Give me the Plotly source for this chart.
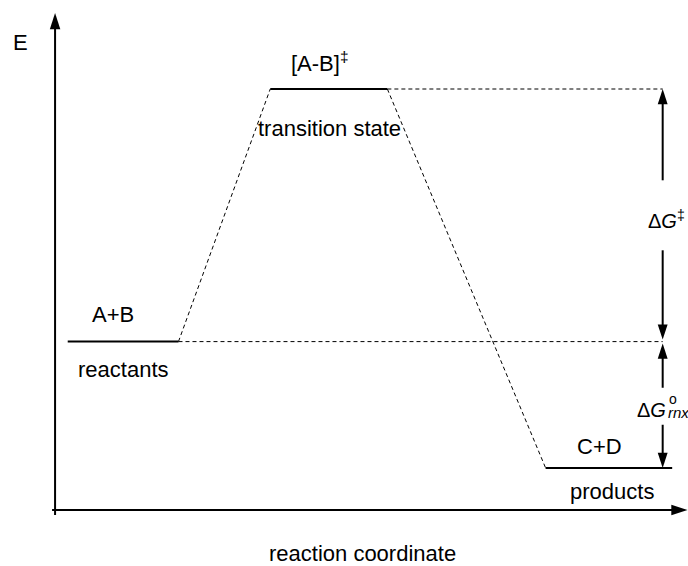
import plotly.graph_objects as go

# ---- data ----
states = ["reactants", "transition state", "products"]
species = ["A+B", "[A-B]‡", "C+D"]
energy = [40, 100, 10]
x_start = [2.0, 34.0, 77.5]
x_end = [19.5, 52.5, 97.5]
arrow_x = 96.0
x_title = "reaction coordinate"
y_title = "E"

# ---- geometry helpers ----
W, H = 688, 566
XR = [-8.7, 100.0]
YR = [-13.3, 121.14]
px_x = W / (XR[1] - XR[0])
px_y = H / (YR[1] - YR[0])


def dx(p):
    return p / px_x


def dy(p):
    return p / px_y


FONT = "Liberation Sans, Arial, sans-serif"
BLACK = "#000000"
fig = go.Figure()


def seg(x0, y0, x1, y1, width=2, dash=None):
    fig.add_trace(go.Scatter(x=[x0, x1], y=[y0, y1], mode="lines",
                             line=dict(color=BLACK, width=width, dash=dash),
                             hoverinfo="skip", showlegend=False))


def head(x, y, angle, size=16):
    fig.add_trace(go.Scatter(x=[x], y=[y], mode="markers",
                             marker=dict(symbol="arrow", angle=angle, size=size,
                                         color=BLACK, line=dict(width=0)),
                             hoverinfo="skip", showlegend=False))


DASH = "4px,3px"
# energy levels
for i in range(len(states)):
    seg(x_start[i], energy[i], x_end[i], energy[i], width=2)
# connectors
for i in range(len(states) - 1):
    seg(x_end[i], energy[i], x_start[i + 1], energy[i + 1], width=1, dash=DASH)
# guides
seg(x_end[1], energy[1], arrow_x, energy[1], width=1, dash=DASH)
seg(x_end[0], energy[0], arrow_x, energy[0], width=1, dash=DASH)

# axes
y_tip = YR[1] - dy(13)
seg(0, -dy(5), 0, y_tip - dy(8), width=2)
head(0, y_tip, 0, size=17)
x_tip = XR[1] - dx(0.5)
seg(-dx(3), 0, x_tip - dx(8), 0, width=2)
head(x_tip, 0, 90, size=17)

# delta G double-dagger arrow
mid1 = (energy[1] + energy[0]) / 2
seg(arrow_x, mid1 + dy(35), arrow_x, energy[1] - dy(8), width=2)
head(arrow_x, energy[1], 0)
seg(arrow_x, mid1 - dy(35), arrow_x, energy[0] + dy(2) + dy(8), width=2)
head(arrow_x, energy[0] + dy(2), 180)

# delta G rnx arrow
mid2 = (energy[0] + energy[2]) / 2
seg(arrow_x, mid2 + dy(17), arrow_x, energy[0] - dy(2) - dy(8), width=2)
head(arrow_x, energy[0] - dy(2), 0)
seg(arrow_x, mid2 - dy(20), arrow_x, energy[2] + dy(8), width=2)
head(arrow_x, energy[2], 180)

ann = []
above_shift = [(-10, 27), (-9, 27), (-9, 21)]
below_shift = [(0, -28), (1, -39), (3, -24)]
for i in range(len(states)):
    cx = (x_start[i] + x_end[i]) / 2
    ann.append(dict(x=cx, y=energy[i], text=species[i].replace("‡", "<sup>‡</sup>"),
                    xshift=above_shift[i][0], yshift=above_shift[i][1]))
    ann.append(dict(x=cx, y=energy[i], text=states[i],
                    xshift=below_shift[i][0], yshift=below_shift[i][1]))

ann.append(dict(x=arrow_x, y=mid1, text="Δ<i>G</i><sup>‡</sup>", xanchor="center",
                xshift=4, yshift=-4, font=dict(size=20)))
ann.append(dict(x=arrow_x, y=mid2, text="Δ<i>G</i>", xanchor="right", yanchor="middle",
                xshift=5, yshift=-5, font=dict(size=20)))
ann.append(dict(x=arrow_x, y=mid2, text="o", xanchor="left", yanchor="middle",
                xshift=4, yshift=6, font=dict(size=14)))
ann.append(dict(x=arrow_x, y=mid2, text="<i>rnx</i>", xanchor="left", yanchor="middle",
                xshift=3, yshift=-8, font=dict(size=15)))

for a in ann:
    a.setdefault("xref", "x")
    a.setdefault("yref", "y")
    a.setdefault("xanchor", "center")
    a.setdefault("yanchor", "middle")
    a["showarrow"] = False
    f = dict(family=FONT, size=22, color=BLACK)
    f.update(a.get("font", {}))
    a["font"] = f

ann.append(dict(xref="paper", yref="paper", x=20 / W, y=1 - 43 / H, text=y_title,
                xanchor="center", yanchor="middle",
                showarrow=False, font=dict(family=FONT, size=22, color=BLACK)))
ann.append(dict(xref="paper", yref="paper", x=362 / W, y=1 - 553 / H, text=x_title,
                xanchor="center", yanchor="middle",
                showarrow=False, font=dict(family=FONT, size=22, color=BLACK)))

fig.update_layout(
    width=W, height=H,
    margin=dict(l=0, r=0, t=0, b=0),
    paper_bgcolor="white", plot_bgcolor="white",
    xaxis=dict(range=XR, visible=False, fixedrange=True),
    yaxis=dict(range=YR, visible=False, fixedrange=True),
    annotations=ann,
    showlegend=False,
)

fig.write_html("out.html", config={"displayModeBar": False},
               post_script="document.body.style.margin='0';document.body.style.padding='0';"
                           "document.documentElement.style.overflow='hidden';")
